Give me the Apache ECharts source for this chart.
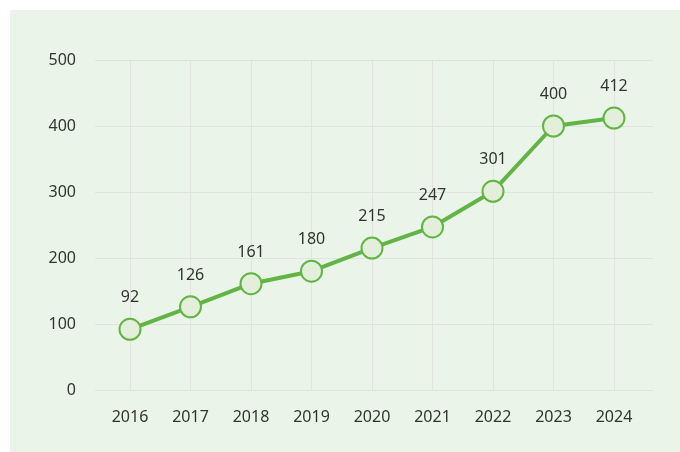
<!DOCTYPE html>
<html>
<head>
<meta charset="utf-8">
<script src="https://cdn.jsdelivr.net/npm/echarts@6/dist/echarts.min.js"></script>
<style>
html,body{margin:0;padding:0;background:#ffffff;}
#chart{width:680px;height:452px;}
</style>
</head>
<body>
<div id="chart"></div>
<script>
const years = ['2016','2017','2018','2019','2020','2021','2022','2023','2024'];
const values = [92, 126, 161, 180, 215, 247, 301, 400, 412];
const yTicks = [0, 100, 200, 300, 400, 500];

const chart = echarts.init(document.getElementById('chart'), null, {renderer: 'canvas'});
const font = '"Noto Sans", sans-serif';
const gridColor = '#e1e3df';
const option = {
  backgroundColor: 'transparent',
  animation: false,
  graphic: [{
    type: 'rect', z: -10, silent: true,
    shape: {x: 10, y: 10, width: 670, height: 442},
    style: {fill: '#ebf4e8'}
  }],
  grid: [
    {left: 95, right: 27, top: 60, bottom: 62},
    {left: 130, right: 66, top: 60, bottom: 62}
  ],
  xAxis: [
    {type: 'value', gridIndex: 0, show: false, min: 0, max: 1},
    {
      type: 'category', gridIndex: 1, data: years, boundaryGap: false,
      axisLine: {show: false}, axisTick: {show: false},
      axisLabel: {color: '#333', fontSize: 16, fontFamily: font, margin: 19},
      splitLine: {show: true, lineStyle: {color: gridColor, width: 1}}
    }
  ],
  yAxis: [
    {
      type: 'value', gridIndex: 0, min: yTicks[0], max: yTicks[yTicks.length - 1], interval: 100,
      axisLine: {show: false}, axisTick: {show: false},
      axisLabel: {color: '#333', fontSize: 16, fontFamily: font, margin: 19},
      splitLine: {show: true, lineStyle: {color: gridColor, width: 1}}
    },
    {
      type: 'value', gridIndex: 1, min: yTicks[0], max: yTicks[yTicks.length - 1], interval: 100,
      show: false, splitLine: {show: false}
    }
  ],
  series: [{
    type: 'line', xAxisIndex: 1, yAxisIndex: 1,
    data: values,
    symbol: 'circle', symbolSize: 21,
    lineStyle: {color: '#62b446', width: 4},
    itemStyle: {color: '#e3efdb', borderColor: '#62b446', borderWidth: 2},
    label: {show: true, position: 'top', distance: 12, color: '#333', fontSize: 16, fontFamily: font}
  }]
};
chart.setOption(option);
</script>
</body>
</html>
